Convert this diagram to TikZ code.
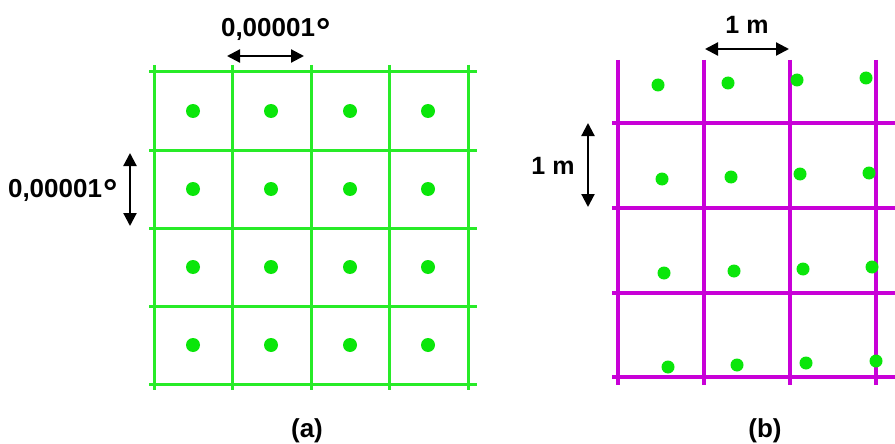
\documentclass[tikz,border=0pt]{standalone}
\usepackage{fontspec}
\setmainfont{Liberation Sans}
\usetikzlibrary{arrows.meta}
\definecolor{gridgreen}{RGB}{40,235,40}
\definecolor{dotgreen}{RGB}{10,230,10}
\definecolor{gridmag}{RGB}{200,0,215}
\newcommand{\bigdeg}{\kern1.5pt\raisebox{-7pt}{\fontsize{36}{36}\selectfont °}}
\begin{document}
\begin{tikzpicture}[x=1pt,y=-1pt,
  glines/.style={draw=gridgreen,line width=3pt},
  mlines/.style={draw=gridmag,line width=4.2pt},
  pt/.style={fill=dotgreen},
  dim/.style={line width=2.2pt,{Triangle[length=13pt,width=13pt]}-{Triangle[length=13pt,width=13pt]}},
  lab/.style={font=\fontsize{26}{30}\selectfont\bfseries,inner sep=0pt,anchor=base},
  labm/.style={font=\fontsize{25}{30}\selectfont\bfseries,inner sep=0pt,anchor=base}]
\useasboundingbox[fill=white] (0,0) rectangle (895,444);
% grid (a)
\foreach \x in {154,232,311,389,468} \draw[glines] (\x,65) -- (\x,390);
\foreach \y in {72,150,228,306,384} \draw[glines] (149,\y) -- (477,\y);
\foreach \x in {193,271,350,428} \foreach \y in {111,189,267,345} \fill[pt] (\x,\y) circle (7pt);
% dimension (a)
\coordinate (at1) at (227,56);
\coordinate (at2) at (304,56);
\draw[dim] (at1) -- (at2);
\node[lab] (lat) at (276,37) {0,00001\bigdeg};
\coordinate (al1) at (130,153);
\coordinate (al2) at (130,226);
\draw[dim] (al1) -- (al2);
\node[lab] (lal) at (63,197) {0,00001\bigdeg};
\node[lab] (capa) at (307,437) {(a)};
% grid (b)
\foreach \x in {618,704,790,876} \draw[mlines] (\x,60) -- (\x,385);
\foreach \y in {123,208,293,377} \draw[mlines] (612,\y) -- (895,\y);
\foreach \x/\y in {658/85,728/83,797/80,866/78,
                   662/179,731/177,800/174,869/173,
                   664/273,734/271,803/269,872/267,
                   668/367,737/365,806/363,876/361}
  \fill[pt] (\x,\y) circle (6.5pt);
% dimension (b)
\coordinate (bt1) at (705,49);
\coordinate (bt2) at (789,49);
\draw[dim] (bt1) -- (bt2);
\node[labm] (lbt) at (747,34) {1 m};
\coordinate (bl1) at (588,123);
\coordinate (bl2) at (588,207);
\draw[dim] (bl1) -- (bl2);
\node[labm] (lbl) at (553,174) {1 m};
\node[lab] (capb) at (765,437) {(b)};
\end{tikzpicture}
\end{document}
